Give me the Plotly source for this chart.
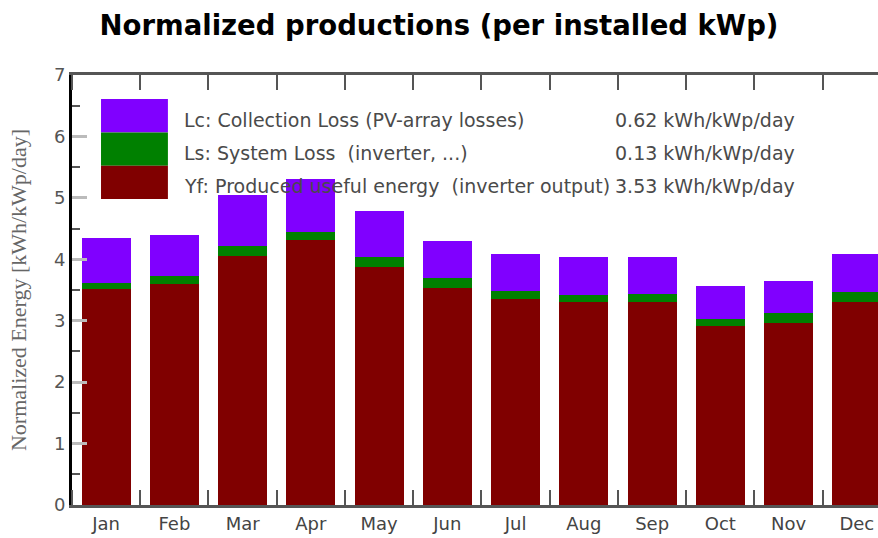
import plotly.graph_objects as go

MESES = ["Jan", "Feb", "Mar", "Apr", "May", "Jun",
         "Jul", "Aug", "Sep", "Oct", "Nov", "Dec"]

# valores acumulados (kWh/kWp/dia)
yf = [3.51, 3.59, 4.06, 4.31, 3.88, 3.54, 3.36, 3.31, 3.31, 2.92, 2.97, 3.31]
topo_ls = [3.62, 3.72, 4.21, 4.45, 4.03, 3.69, 3.49, 3.42, 3.44, 3.03, 3.13, 3.46]
topo_lc = [4.34, 4.40, 5.04, 5.30, 4.78, 4.29, 4.08, 4.03, 4.03, 3.56, 3.65, 4.08]

ls = [round(a - b, 2) for a, b in zip(topo_ls, yf)]
lc = [round(a - b, 2) for a, b in zip(topo_lc, topo_ls)]

LEGENDA = [
    ("Lc: Collection Loss (PV-array losses)", "0.62 kWh/kWp/day", "#8000ff"),
    ("Ls: System Loss  (inverter, ...)", "0.13 kWh/kWp/day", "#008000"),
    ("Yf: Produced useful energy  (inverter output)", "3.53 kWh/kWp/day", "#800000"),
]
FONTE = "DejaVu Sans"

x = list(range(len(MESES)))
fig = go.Figure()
for nome, vals, cor in [("Yf", yf, "#800000"), ("Ls", ls, "#008000"), ("Lc", lc, "#8000ff")]:
    fig.add_trace(go.Bar(
        x=x, y=vals, name=nome, width=0.72,
        marker=dict(color=cor, line=dict(width=0)),
        showlegend=False,
    ))

# legenda desenhada à mão, como no original
alt = 0.0775
for i, (txt, val, cor) in enumerate(LEGENDA):
    topo = 0.944 - i * alt
    fig.add_shape(type="rect", xref="paper", yref="paper",
                  x0=0.036, x1=0.119, y0=topo - alt, y1=topo,
                  fillcolor=cor, line=dict(width=0), layer="above")
    yc = topo - alt / 2 - 0.009
    fig.add_annotation(xref="paper", yref="paper", x=0.137, y=yc,
                       text=txt, showarrow=False, xanchor="left", yanchor="middle",
                       font=dict(family=FONTE, size=19, color="#4a4a4a"))
    fig.add_annotation(xref="paper", yref="paper", x=0.899, y=yc,
                       text=val, showarrow=False, xanchor="right", yanchor="middle",
                       font=dict(family=FONTE, size=19, color="#4a4a4a"))

fig.update_layout(
    width=878, height=538,
    margin=dict(l=72, r=0, t=75, b=33, autoexpand=False),
    barmode="stack",
    paper_bgcolor="white", plot_bgcolor="white",
    title=dict(text="<b>Normalized productions (per installed kWp)</b>",
               x=0.5, xanchor="center", y=0.952, yanchor="middle",
               automargin=False,
               font=dict(family=FONTE, size=27.5, color="#000000")),
    xaxis=dict(
        range=[-0.5, 11.31], tickvals=x, ticktext=MESES, ticks="",
        automargin=False,
        tickfont=dict(family=FONTE, size=18, color="#444444"),
        showline=True, linecolor="#555555", linewidth=3, mirror="allticks",
        showgrid=False, zeroline=False,
        minor=dict(tick0=0.5, dtick=1, ticks="inside", ticklen=15,
                   tickcolor="#555555", tickwidth=2, showgrid=False),
    ),
    yaxis=dict(
        range=[0, 7], dtick=1, ticks="inside", ticklen=15, tickwidth=3,
        tickcolor="#bbbbbb", automargin=False,
        tickfont=dict(family=FONTE, size=18, color="#555555"),
        showline=True, linecolor="#000000", linewidth=3,
        showgrid=False, zeroline=False,
        minor=dict(dtick=0.5, ticks="inside", ticklen=8, tickcolor="#555555",
                   tickwidth=2, showgrid=False),
        title=dict(text="Normalized Energy [kWh/kWp/day]", standoff=22,
                   font=dict(family="Liberation Serif", size=22, color="#666666")),
    ),
)

# tira a margem padrão do <body> para a figura ficar no canto da janela
fig.write_html("out.html", config={"displayModeBar": False},
               post_script="document.body.style.margin='0';")
